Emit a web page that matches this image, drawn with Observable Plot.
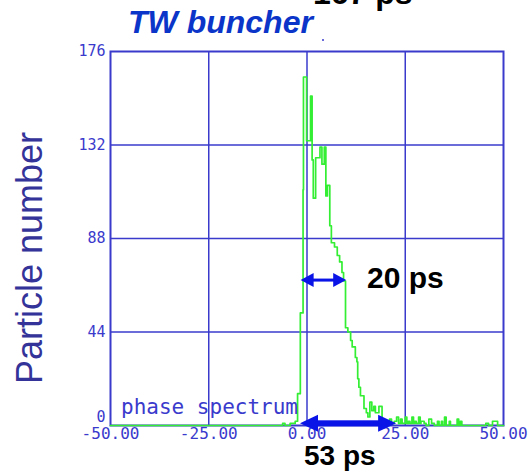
<!DOCTYPE html>
<html>
<head>
<meta charset="utf-8">
<script src="https://cdn.jsdelivr.net/npm/d3@7"></script>
<script src="https://cdn.jsdelivr.net/npm/@observablehq/plot@0.6"></script>
<style>
  html, body { margin: 0; padding: 0; background: #ffffff; }
  #chart { position: relative; width: 528px; height: 473px; overflow: hidden; }
</style>
</head>
<body>
<div id="chart"></div>
<script>
// Step-histogram of the phase spectrum: each edge starts a bin run with the given count
const phaseEdge = [-50, -6.2, -5.6, -4.3, -3.0, -2.4, -1.7, -1.0, -0.9, -0.1, 0.9, 1.3, 1.6, 2.2, 3.3, 3.8, 4.4, 4.8, 5.2, 5.8,
  6.2, 7.0, 7.7, 8.3, 8.9, 9.3, 9.8, 10.4, 11.1, 11.5, 12.3, 12.7, 12.9, 13.2, 13.6, 14.5, 15.1, 15.5, 16.0, 16.5,
  17.0, 17.4, 18.3, 19.1, 19.6, 20.4, 21.0, 21.5, 22.2, 22.8, 23.3, 23.8, 24.2, 25.0, 25.4, 25.8, 26.2, 26.7, 27.1, 27.4,
  27.8, 28.4, 28.8, 29.0, 29.8, 30.3, 31.0, 31.7, 32.4, 33.2, 33.6, 34.2, 34.5, 35.0, 35.4, 36.2, 36.5, 38.2, 38.6, 39.0,
  39.4, 45.5, 46.2, 47.2, 48.5, 50];
const particleCount = [0, 1, 0, 1, 2, 15, 53, 111, 164, 134, 155, 125, 107, 126, 131, 123, 131, 108, 113, 94,
  86, 84, 80, 77, 72, 68, 46, 44, 40, 37, 32, 30, 22, 18, 14, 8, 6, 4, 11, 7,
  9, 6, 9, 3, 2, 1, 3, 1, 2, 4, 1, 3, 1, 4, 1, 2, 1, 4, 1, 2,
  1, 4, 1, 2, 1, 0, 3, 1, 0, 2, 0, 2, 0, 4, 0, 2, 0, 3, 0, 2,
  0, 1, 0, 2, 0, 0];

const xTicks = [-50, -25, 0, 25, 50];
const yTicks = [44, 88, 132, 176];
const xGrid = [-25, 0, 25];
const yGrid = [44, 88, 132];

// annotation values (double arrows: phase from, phase to, particle level)
const arrow20 = {from: -1.5, to: 10.1, level: 68.2, label: "20 ps"};
const arrow53 = {from: -1.65, to: 22.8, level: 0.8, label: "53 ps"};

const hist = phaseEdge.map((p, i) => ({phase: p, count: particleCount[i]}));

const BLUE = "#3a3acc";
const GREEN = "#33ee33";
const ARROW = "#0a14e6";
const MONO = "'DejaVu Sans Mono', 'Liberation Mono', monospace";
const SANS = "'Liberation Sans', Arial, sans-serif";

const chart = Plot.plot({
  width: 528,
  height: 473,
  marginLeft: 110,
  marginRight: 25,
  marginTop: 51,
  marginBottom: 48,
  style: {background: "white", overflow: "visible"},
  x: {domain: [-50, 50], label: null},
  y: {domain: [0, 176], label: null},
  marks: [
    Plot.gridX(xGrid, {stroke: BLUE, strokeOpacity: 1, strokeWidth: 1.5}),
    Plot.gridY(yGrid, {stroke: BLUE, strokeOpacity: 1, strokeWidth: 1.5}),
    Plot.frame({stroke: BLUE, strokeWidth: 2}),
    Plot.line(hist, {x: "phase", y: "count", curve: "step-after", stroke: GREEN, strokeWidth: 1.7}),
    Plot.axisX(xTicks, {anchor: "bottom", tickSize: 0, tickPadding: 2, tickFormat: d => d.toFixed(2),
      color: BLUE, fontFamily: MONO, fontSize: 16, label: null}),
    Plot.axisY(yTicks, {anchor: "left", tickSize: 0, tickPadding: 5, tickFormat: d => String(d),
      color: BLUE, fontFamily: MONO, fontSize: 15, label: null}),
    Plot.axisY([0], {anchor: "left", tickSize: 0, tickPadding: 5, dy: -8, tickFormat: d => String(d),
      color: BLUE, fontFamily: MONO, fontSize: 15, label: null})
  ]
});

document.getElementById("chart").appendChild(chart);

const sx = chart.scale("x");
const sy = chart.scale("y");
const svg = d3.select(chart);

function doubleArrow(a, headLen, headHalf, shaft) {
  const x1 = sx.apply(a.from), x2 = sx.apply(a.to), y = sy.apply(a.level);
  const g = svg.append("g").attr("fill", ARROW).attr("stroke", "none");
  g.append("rect").attr("x", x1 + headLen - 1).attr("y", y - shaft / 2)
    .attr("width", (x2 - x1) - 2 * headLen + 2).attr("height", shaft);
  g.append("path").attr("d", `M${x1},${y}L${x1 + headLen},${y - headHalf}L${x1 + headLen},${y + headHalf}Z`);
  g.append("path").attr("d", `M${x2},${y}L${x2 - headLen},${y - headHalf}L${x2 - headLen},${y + headHalf}Z`);
}
doubleArrow(arrow20, 13, 7, 3);
doubleArrow(arrow53, 18, 8.5, 6);

function label(txt, x, y, opts) {
  const t = svg.append("text").attr("x", x).attr("y", y).text(txt)
    .attr("font-family", opts.family || SANS)
    .attr("font-size", opts.size)
    .attr("font-weight", opts.weight || "normal")
    .attr("font-style", opts.style || "normal")
    .attr("fill", opts.fill || "black")
    .attr("text-anchor", opts.anchor || "start");
  if (opts.rotate) t.attr("transform", `rotate(-90 ${x} ${y})`);
  return t;
}

label("phase spectrum", 121, 414, {family: MONO, size: 21, fill: BLUE});
label("TW buncher", 128, 33, {size: 32, weight: "bold", style: "italic", fill: "#0b35c8"});
label("167 ps", 313, 4, {size: 32, weight: "bold"});
label(arrow20.label, 367, 288, {size: 30, weight: "bold"});
label(arrow53.label, 304, 465, {size: 28, weight: "bold"});
label("Particle number", 42, 258, {size: 36, fill: "#333399", anchor: "middle", rotate: true});
svg.append("circle").attr("cx", 323).attr("cy", 40).attr("r", 1).attr("fill", BLUE);
</script>
</body>
</html>
